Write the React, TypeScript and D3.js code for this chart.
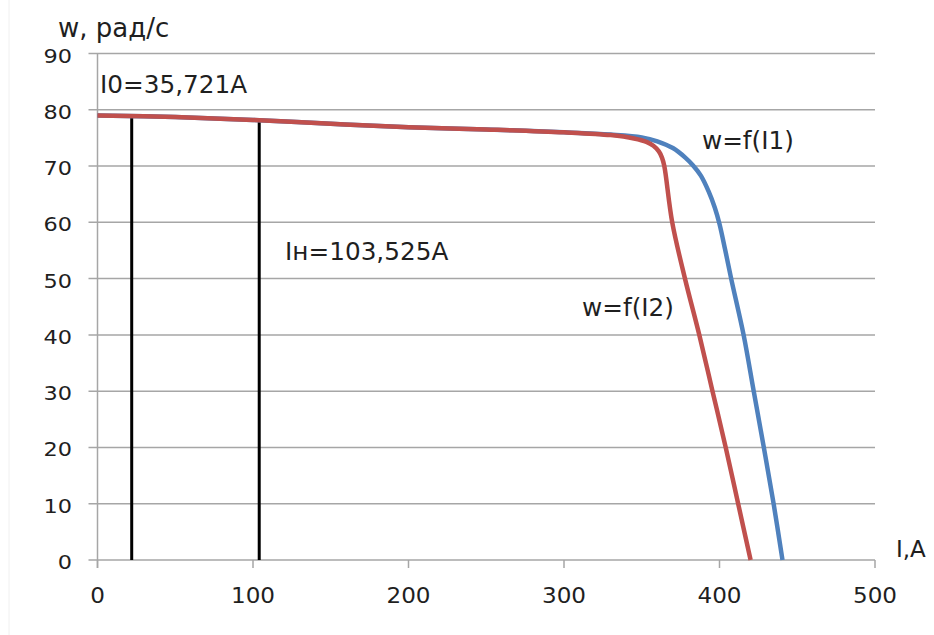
import React from "react";
import * as d3 from "d3";

const xTicks = [0, 100, 200, 300, 400, 500];
const yTicks = [0, 10, 20, 30, 40, 50, 60, 70, 80, 90];

const i1X = [0, 50, 100, 150, 200, 250, 300, 330, 350, 360, 370, 378, 383, 388, 393, 397, 400, 403.5, 407.5, 415.5, 422, 428.5, 434.8, 440.5];
const i1Y = [79, 78.7, 78.2, 77.5, 76.9, 76.5, 76.0, 75.6, 75.1, 74.4, 73.2, 71.5, 70.1, 68.3, 65.5, 62.6, 59.7, 55.3, 50, 40, 30, 20, 10, 0];

const i2X = [0, 50, 100, 150, 200, 250, 300, 330, 345, 353, 357.5, 361, 363, 364.5, 369.6, 377.8, 387, 395.5, 404, 412, 420];
const i2Y = [79, 78.7, 78.2, 77.5, 76.9, 76.5, 76.0, 75.5, 74.9, 74.3, 73.6, 72.6, 71.5, 70, 60, 50, 40, 30, 20, 10, 0];

const markerX = [22, 104];
const markerTop = [78.6, 77.9];

const annotations = [
  { text: "I0=35,721A", x: 1.6, y: 82.9 },
  { text: "Iн=103,525A", x: 120.6, y: 53.3 },
  { text: "w=f(I1)", x: 388.7, y: 73.1 },
  { text: "w=f(I2)", x: 311.6, y: 43.3 },
];

const FONT = "'DejaVu Sans', Verdana, sans-serif";

function T(props: {
  x: number;
  y: number;
  size: number;
  sx?: number;
  anchor?: "start" | "middle" | "end";
  children: React.ReactNode;
}) {
  const { x, y, size, sx = 1, anchor = "start", children } = props;
  return (
    <g transform={`translate(${x},${y}) scale(${sx},1)`}>
      <text x={0} y={0} fontSize={size} textAnchor={anchor} fill="#1f1f1f" fontFamily={FONT}>
        {children}
      </text>
    </g>
  );
}

export default function App() {
  const W = 934, H = 635;
  const x = d3.scaleLinear().domain([0, 500]).range([97.5, 875]);
  const y = d3.scaleLinear().domain([0, 90]).range([560, 53.5]);
  const mk = (xs: number[], ys: number[]) =>
    d3
      .line<[number, number]>()
      .x((d) => x(d[0]))
      .y((d) => y(d[1]))
      .curve(d3.curveCatmullRom.alpha(0.5))(xs.map((v, i) => [v, ys[i]] as [number, number])) || "";
  const grid = "#a6a6a6";
  return (
    <svg
      width={W}
      height={H}
      style={{ position: "absolute", left: 0, top: 0, background: "#fff" }}
    >
      <rect x={0} y={0} width={W} height={H} fill="#fff" />
      <line x1={9} x2={9} y1={0} y2={H} stroke="#f0f0f0" />
      {yTicks.map((t) => (
        <g key={"y" + t}>
          <line x1={x(0) - 9} x2={x(500)} y1={y(t)} y2={y(t)} stroke={grid} strokeWidth={1.5} />
          <T x={72} y={y(t) + 9} size={20} sx={1.12} anchor="end">
            {t}
          </T>
        </g>
      ))}
      <line x1={x(0)} x2={x(0)} y1={y(90)} y2={y(0) + 8} stroke={grid} strokeWidth={1.5} />
      {xTicks.map((t) => (
        <g key={"x" + t}>
          <line x1={x(t)} x2={x(t)} y1={y(0)} y2={y(0) + 8} stroke={grid} strokeWidth={1.5} />
          <T x={x(t)} y={603} size={21} sx={1.1} anchor="middle">
            {t}
          </T>
        </g>
      ))}
      {markerX.map((m, i) => (
        <line key={"m" + i} x1={x(m)} x2={x(m)} y1={y(0)} y2={y(markerTop[i])} stroke="#000" strokeWidth={3} />
      ))}
      <path d={mk(i1X, i1Y)} fill="none" stroke="#4f81bd" strokeWidth={4.5} strokeLinejoin="round" />
      <path d={mk(i2X, i2Y)} fill="none" stroke="#c0504d" strokeWidth={4.5} strokeLinejoin="round" />
      {annotations.map((a, i) => (
        <T key={"a" + i} x={x(a.x)} y={y(a.y)} size={24} sx={1.03}>
          {a.text}
        </T>
      ))}
      <T x={58} y={36.5} size={26}>
        w, рад/с
      </T>
      <T x={896} y={556.5} size={23}>
        I,A
      </T>
    </svg>
  );
}
